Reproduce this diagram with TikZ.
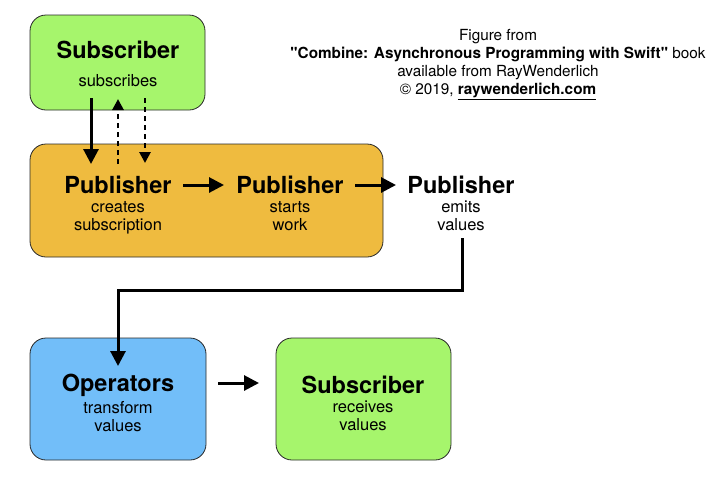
\documentclass[tikz,border=0pt]{standalone}
\usepackage{fontspec}
\setmainfont{TeX Gyre Heros}[Ligatures=TeXOff]
\usetikzlibrary{arrows.meta}
\definecolor{subgreen}{RGB}{166,245,108}
\definecolor{puborange}{RGB}{239,187,63}
\definecolor{opblue}{RGB}{114,190,249}
\definecolor{boxline}{RGB}{40,40,40}
\tikzset{
  box/.style={draw=boxline, line width=0.8pt, rounded corners=16pt, inner sep=0pt},
  title/.style={font=\bfseries\fontsize{23.5}{26}\selectfont, inner sep=0pt, anchor=center},
  sub/.style={font=\fontsize{16.5}{18}\selectfont, align=center, inner sep=0pt, anchor=north},
  solidarr/.style={line width=3pt, -{Triangle[length=15pt,width=15pt]}},
  dasharr/.style={line width=2.7pt, dash pattern=on 5pt off 4pt, -{Triangle[length=11pt,width=11pt]}},
  credit/.style={font=\fontsize{15.3}{18}\selectfont, align=center, inner sep=0pt}
}
\begin{document}
\begin{tikzpicture}[x=1pt,y=-1pt]
\useasboundingbox (0,0) rectangle (727,499);
% boxes
\node[box, fill=subgreen, minimum width=175pt, minimum height=95pt] (subtop) at (117.5,62.5) {};
\node[box, fill=puborange, minimum width=353pt, minimum height=113pt] (pubbox) at (206.5,200.5) {};
\node[box, fill=opblue, minimum width=176pt, minimum height=122pt] (opbox) at (118,399) {};
\node[box, fill=subgreen, minimum width=175pt, minimum height=122pt] (subbot) at (363.5,399) {};
% texts
\node[title] (tsub) at (118,50) {Subscriber};
\node[sub] (ssub) at (118,74) {subscribes};
\node[title] (tp1) at (118,185) {Publisher};
\node[sub] (sp1) at (118,201) {creates\\subscription};
\node[title] (tp2) at (290,185) {Publisher};
\node[sub] (sp2) at (290,201) {starts\\work};
\node[title] (tp3) at (461,185) {Publisher};
\node[sub] (sp3) at (461,201) {emits\\values};
\node[title] (top) at (118,385) {Operators};
\node[sub] (sop) at (118,401) {transform\\values};
\node[title] (tsb) at (363,385) {Subscriber};
\node[sub] (ssb) at (363,401) {receives\\values};
% credit
\node[credit] (cred) at (498,65) {Figure from\\\textbf{"Combine: Asynchronous Programming with Swift"} book\\available from RayWenderlich\\© 2019, \textbf{\underline{raywenderlich.com}}};
% connectors
\coordinate (a1s) at (91,98);
\coordinate (a1e) at (91,164);
\coordinate (a2s) at (118,164);
\coordinate (a2e) at (118,99);
\coordinate (a3s) at (145,98);
\coordinate (a3e) at (145,163);
\coordinate (b1s) at (183,185);
\coordinate (b1e) at (224,185);
\coordinate (b2s) at (355,185);
\coordinate (b2e) at (396,185);
\coordinate (c1s) at (462,238);
\coordinate (c1m) at (118,290);
\coordinate (c1e) at (118,366);
\coordinate (d1s) at (218,383);
\coordinate (d1e) at (259,383);
\draw[solidarr] (a1s) -- (a1e);
\draw[dasharr] (a2s) -- (a2e);
\draw[dasharr] (a3s) -- (a3e);
\draw[solidarr] (b1s) -- (b1e);
\draw[solidarr] (b2s) -- (b2e);
\draw[solidarr] (c1s) |- (c1m) -- (c1e);
\draw[solidarr] (d1s) -- (d1e);
\end{tikzpicture}
\end{document}
